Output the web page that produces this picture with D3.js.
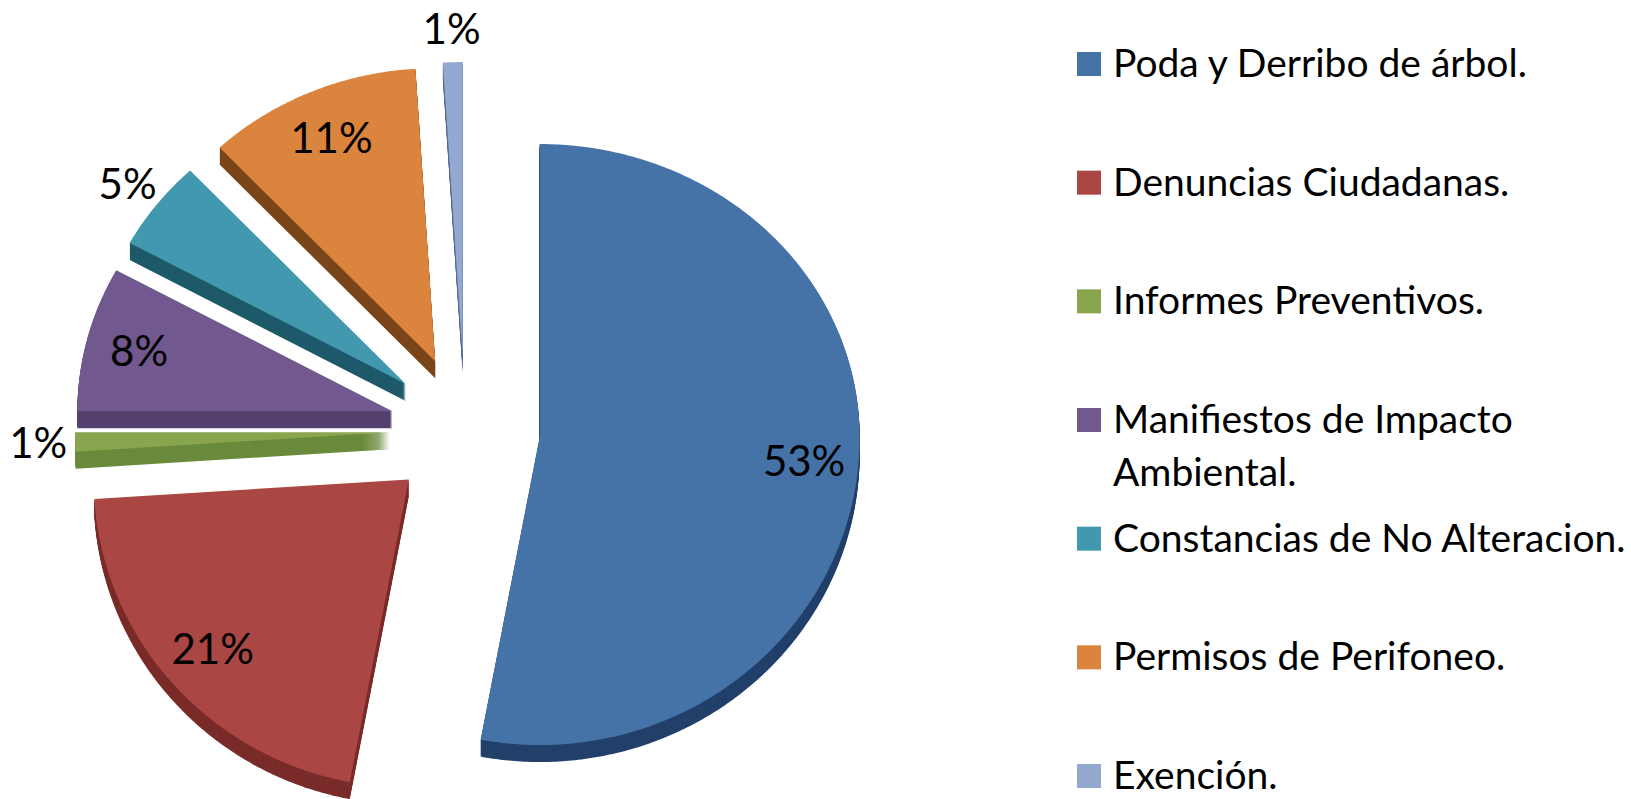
<!DOCTYPE html>
<html>
<head>
<meta charset="utf-8">
<script src="https://cdn.jsdelivr.net/npm/d3@7"></script>
<style>
  html, body { margin: 0; padding: 0; background: #fff; }
  svg { display: block; }
</style>
</head>
<body>
<script>
// Chart data
const categories = [
  'Poda y Derribo de árbol.',
  'Denuncias Ciudadanas.',
  'Informes Preventivos.',
  'Manifiestos de Impacto Ambiental.',
  'Constancias de No Alteracion.',
  'Permisos de Perifoneo.',
  'Exención.'
]
const values = [53, 21, 1, 8, 5, 11, 1]
const topColors = ['#4572A7', '#AA4643', '#89A54E', '#71588F', '#4198AF', '#DB843D', '#93A9CF']
const sideColors = ['#22406A', '#7A2C2A', '#6A8A3C', '#55416F', '#1E5A6A', '#7A461A', '#5A6F96']

const width = 1631
const height = 799

// Pie geometry (3D pie seen in slight perspective, exploded)
const cx = 465
const cy = 430
const ryTop = 293
const ryBottom = 308
const rxLeft = 315
const rxRight = 320
const explode = 75
const depth = 17

const svg = d3.select('body')
  .append('svg')
  .attr('width', width)
  .attr('height', height)
  .attr('viewBox', `0 0 ${width} ${height}`)

const pie = d3.pie().sort(null).value(d => d)
const arcs = pie(values)

function centerOf(d) {
  const mid = (d.startAngle + d.endAngle) / 2
  return [cx + explode * Math.sin(mid), cy - explode * Math.cos(mid)]
}

function pointAt(c, a, f) {
  const s = Math.sin(a)
  const k = Math.cos(a)
  const rx = s < 0 ? rxLeft : rxRight
  const ry = k > 0 ? ryTop : ryBottom
  return [c[0] + rx * f * s, c[1] - ry * f * k]
}

function slicePoints(d) {
  const c = centerOf(d)
  const n = Math.max(2, Math.ceil((d.endAngle - d.startAngle) / 0.01))
  const pts = [c]
  d3.range(n + 1).forEach(i => {
    pts.push(pointAt(c, d.startAngle + (d.endAngle - d.startAngle) * i / n, 1))
  })
  return pts
}

const line = d3.line().curve(d3.curveLinearClosed)

const slices = svg.append('g')
  .selectAll('g.slice')
  .data(arcs)
  .join('g')
  .attr('class', 'slice')

// Side walls: stack shifted copies of the top face
slices.each(function (d, i) {
  const pts = slicePoints(d)
  d3.select(this).selectAll('path.side')
    .data(d3.range(depth, 0, -1))
    .join('path')
    .attr('class', 'side')
    .attr('d', k => line(pts.map(p => [p[0], p[1] + k])))
    .attr('fill', sideColors[i])
})

// Top faces
slices.append('path')
  .attr('class', 'top')
  .attr('d', d => line(slicePoints(d)))
  .attr('fill', (d, i) => topColors[i])

// Percentage labels: inside for big slices, just outside the rim for small ones
function labelPos(d) {
  const mid = (d.startAngle + d.endAngle) / 2
  const c = centerOf(d)
  if (d.data >= 6) return pointAt(c, mid, 0.83)
  const p = pointAt(c, mid, 1)
  return [p[0] + 37 * Math.sin(mid), p[1] - 33 * Math.cos(mid)]
}

svg.append('g')
  .selectAll('text')
  .data(arcs)
  .join('text')
  .attr('transform', d => `translate(${labelPos(d)[0]}, ${labelPos(d)[1]})`)
  .attr('text-anchor', 'middle')
  .attr('dy', '0.36em')
  .attr('font-family', 'Lato, "Open Sans", sans-serif')
  .attr('font-size', 42)
  .attr('fill', '#000')
  .text(d => d.data + '%')

// Legend
const legendX = 1077
const legendY = d3.scalePoint()
  .domain(categories)
  .range([64, 776])

const legend = svg.append('g')
  .selectAll('g.item')
  .data(categories)
  .join('g')
  .attr('class', 'item')
  .attr('transform', d => `translate(${legendX}, ${legendY(d)})`)

legend.append('rect')
  .attr('x', 0)
  .attr('y', -12)
  .attr('width', 24)
  .attr('height', 24)
  .attr('fill', (d, i) => topColors[i])

legend.append('text')
  .attr('x', 36)
  .attr('y', 13)
  .attr('font-family', 'Lato, "Open Sans", sans-serif')
  .attr('font-size', 39)
  .attr('fill', '#000')
  .each(function (d) {
    // wrap the long label onto two lines like the original
    const lines = d === 'Manifiestos de Impacto Ambiental.'
      ? ['Manifiestos de Impacto', 'Ambiental.']
      : [d]
    d3.select(this).selectAll('tspan')
      .data(lines)
      .join('tspan')
      .attr('x', 36)
      .attr('dy', (t, j) => j === 0 ? 0 : 53)
      .text(t => t)
  })
</script>
</body>
</html>
